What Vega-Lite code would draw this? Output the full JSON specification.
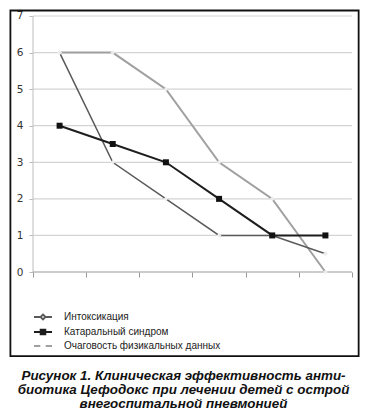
{
  "$schema": "https://vega.github.io/schema/vega-lite/v6.json",
  "width": 359,
  "height": 356,
  "autosize": "none",
  "padding": {"left": 4, "top": 4, "right": 6, "bottom": 56},
  "background": "white",
  "config": {
    "view": {"stroke": null},
    "font": "Liberation Sans"
  },
  "title": {
    "text": ["Рисунок 1. Клиническая эффективность анти-", "биотика Цефодокс при лечении детей с острой", "внегоспитальной пневмонией"],
    "orient": "bottom",
    "anchor": "middle",
    "font": "Liberation Sans",
    "fontSize": 13.4,
    "fontWeight": "bold",
    "fontStyle": "italic",
    "color": "#111",
    "lineHeight": 13.8,
    "offset": 9,
    "baseline": "top"
  },
  "datasets": {
    "series": [
      {"day": 1, "series": "Интоксикация", "value": 6},
      {"day": 3, "series": "Интоксикация", "value": 3},
      {"day": 5, "series": "Интоксикация", "value": 2},
      {"day": 7, "series": "Интоксикация", "value": 1},
      {"day": 9, "series": "Интоксикация", "value": 1},
      {"day": 11, "series": "Интоксикация", "value": 0.5},
      {"day": 1, "series": "Катаральный синдром", "value": 4},
      {"day": 3, "series": "Катаральный синдром", "value": 3.5},
      {"day": 5, "series": "Катаральный синдром", "value": 3},
      {"day": 7, "series": "Катаральный синдром", "value": 2},
      {"day": 9, "series": "Катаральный синдром", "value": 1},
      {"day": 11, "series": "Катаральный синдром", "value": 1},
      {"day": 1, "series": "Очаговость физикальных данных", "value": 6},
      {"day": 3, "series": "Очаговость физикальных данных", "value": 6},
      {"day": 5, "series": "Очаговость физикальных данных", "value": 5},
      {"day": 7, "series": "Очаговость физикальных данных", "value": 3},
      {"day": 9, "series": "Очаговость физикальных данных", "value": 2},
      {"day": 11, "series": "Очаговость физикальных данных", "value": 0}
    ],
    "grid": [
      {"value": 1}, {"value": 2}, {"value": 3}, {"value": 4},
      {"value": 5}, {"value": 6}, {"value": 7}
    ],
    "frame": [
      {"xa": -0.85, "xb": 12.25, "ya": -2.3, "yb": 7.15}
    ],
    "one": [{"a": 0}]
  },
  "layer": [
    {
      "data": {"name": "grid"},
      "mark": {"type": "rule", "color": "#d4d4d4", "strokeWidth": 1.2},
      "encoding": {
        "y": {
          "field": "value", "type": "quantitative", "title": null,
          "scale": {"domain": [-2.406, 7.328], "nice": false, "zero": false},
          "axis": {
            "values": [0, 1, 2, 3, 4, 5, 6, 7],
            "offset": -29,
            "domain": false,
            "grid": false,
            "tickSize": 4,
            "tickColor": "#bbbbbb",
            "labelPadding": 6,
            "labelFont": "DejaVu Sans",
            "labelFontSize": 10.5,
            "labelColor": "#333333"
          }
        },
        "x": {
          "datum": 0, "type": "quantitative", "title": null,
          "scale": {"domain": [-1.091, 12.414], "nice": false, "zero": false},
          "axis": {
            "values": [0, 1, 2, 3, 4, 5, 6, 7, 8, 9, 10, 11, 12],
            "offset": -88,
            "domain": false,
            "grid": false,
            "tickSize": 5,
            "tickColor": "#999999",
            "tickOpacity": {"condition": {"test": "datum.value % 2 == 1", "value": 0}, "value": 1},
            "labelExpr": "datum.value % 2 == 1 ? datum.label : ''",
            "labelPadding": 6,
            "labelFont": "DejaVu Sans",
            "labelFontSize": 10.5,
            "labelColor": "#333333",
            "labelFlush": false,
            "labelOverlap": false
          }
        },
        "x2": {"datum": 12}
      }
    },
    {
      "data": {"name": "frame"},
      "mark": {"type": "rect", "fill": "transparent", "stroke": "#111111", "strokeWidth": 1.8, "clip": false},
      "encoding": {
        "x": {"field": "xa", "type": "quantitative", "title": null},
        "x2": {"field": "xb"},
        "y": {"field": "ya", "type": "quantitative", "title": null},
        "y2": {"field": "yb"}
      }
    },
    {
      "data": {"name": "one"},
      "mark": {"type": "rule", "color": "#c8c8c8", "strokeWidth": 1.2},
      "encoding": {
        "x": {"datum": 0, "type": "quantitative"},
        "y": {"datum": 0, "type": "quantitative"},
        "y2": {"datum": 7}
      }
    },
    {
      "data": {"name": "one"},
      "mark": {"type": "rule", "color": "#9a9a9a", "strokeWidth": 1.2},
      "encoding": {
        "x": {"datum": 0, "type": "quantitative"},
        "x2": {"datum": 12},
        "y": {"datum": 0, "type": "quantitative"}
      }
    },
    {
      "data": {"name": "series"},
      "transform": [{"filter": "datum.series === 'Очаговость физикальных данных'"}],
      "mark": {"type": "line", "strokeWidth": 2},
      "encoding": {
        "x": {"field": "day", "type": "quantitative", "title": null},
        "y": {"field": "value", "type": "quantitative", "title": null},
        "color": {
          "field": "series", "type": "nominal", "title": null,
          "scale": {"domain": ["Интоксикация", "Катаральный синдром", "Очаговость физикальных данных"], "range": ["#5a5a5a", "#1e1e1e", "#a0a0a0"]},
          "legend": {
            "orient": "none",
            "legendX": 31,
            "legendY": 305,
            "title": null,
            "padding": 0,
            "symbolSize": 196,
            "labelOffset": 13,
            "labelFont": "Liberation Sans",
            "labelFontSize": 10,
            "labelColor": "#222222",
            "rowPadding": 0,
            "values": ["Интоксикация", "Катаральный синдром", "Очаговость физикальных данных"],
            "encode": {
              "symbols": {
                "update": {
                  "shape": {"signal": "datum.value === 'Интоксикация' ? 'M-1.29,0H-0.42M0.42,0H1.29M0,-0.36L0.36,0L0,0.36L-0.36,0Z' : datum.value === 'Катаральный синдром' ? 'M-1.29,0H1.29M-0.34,-0.34H0.34V0.34H-0.34Z' : 'M-1.29,0H-0.39M0.39,0H1.29'"},
                  "fill": {"signal": "datum.value === 'Интоксикация' ? '#e4e4e4' : datum.value === 'Катаральный синдром' ? '#111111' : 'transparent'"},
                  "stroke": {"signal": "datum.value === 'Катаральный синдром' ? '#111111' : '#8c8c8c'"},
                  "strokeWidth": {"value": 1.8},
                  "opacity": {"value": 1},
                  "strokeOpacity": {"value": 1}
                }
              }
            }
          }
        }
      }
    },
    {
      "data": {"name": "series"},
      "transform": [{"filter": "datum.series === 'Интоксикация'"}],
      "mark": {"type": "line", "strokeWidth": 1.5},
      "encoding": {
        "x": {"field": "day", "type": "quantitative", "title": null},
        "y": {"field": "value", "type": "quantitative", "title": null},
        "color": {"field": "series", "type": "nominal", "title": null}
      }
    },
    {
      "data": {"name": "series"},
      "transform": [{"filter": "datum.series === 'Катаральный синдром'"}],
      "mark": {"type": "line", "strokeWidth": 2},
      "encoding": {
        "x": {"field": "day", "type": "quantitative", "title": null},
        "y": {"field": "value", "type": "quantitative", "title": null},
        "color": {"field": "series", "type": "nominal", "title": null}
      }
    },
    {
      "data": {"name": "series"},
      "transform": [{"filter": "datum.series !== 'Катаральный синдром'"}],
      "mark": {"type": "point", "filled": true, "shape": "diamond", "size": 22, "color": "#ececec", "opacity": 1},
      "encoding": {
        "x": {"field": "day", "type": "quantitative", "title": null},
        "y": {"field": "value", "type": "quantitative", "title": null}
      }
    },
    {
      "data": {"name": "series"},
      "transform": [{"filter": "datum.series === 'Катаральный синдром'"}],
      "mark": {"type": "point", "filled": true, "shape": "square", "size": 36, "color": "#111111", "opacity": 1},
      "encoding": {
        "x": {"field": "day", "type": "quantitative", "title": null},
        "y": {"field": "value", "type": "quantitative", "title": null}
      }
    }
  ]
}
